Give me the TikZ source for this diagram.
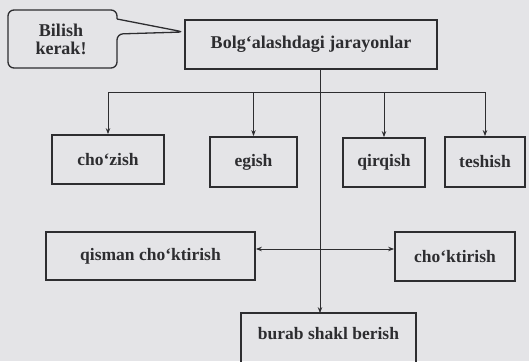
\documentclass[tikz,border=0pt]{standalone}
\usepackage{fontspec}
\setmainfont{Liberation Serif}
\usetikzlibrary{arrows.meta}
\definecolor{paper}{RGB}{228,228,231}
\definecolor{ink}{RGB}{45,45,48}
\tikzset{
  box/.style={draw=ink, line width=1.8pt, fill=paper, inner sep=0pt, font=\bfseries\fontsize{17.5}{20}\selectfont, text=ink},
  mainbox/.style={box, line width=2.4pt, font=\bfseries\fontsize{18}{20}\selectfont},
  conn/.style={draw=ink, line width=0.9pt},
  arr/.style={conn, -{Stealth[length=6pt,width=4.5pt]}},
  darr/.style={conn, {Stealth[length=6pt,width=4.5pt]}-{Stealth[length=6pt,width=4.5pt]}},
}
\begin{document}
\begin{tikzpicture}[x=1pt,y=-1pt]
\fill[paper] (0,0) rectangle (529,361);
\clip (0,0) rectangle (529,361);
\useasboundingbox (0,0) rectangle (529,361);
% boxes (centre, size)
\node[mainbox, minimum width=252pt, minimum height=49pt] (main) at (311,44.5) {Bolg‘alashdagi jarayonlar};
\node[box, minimum width=112pt, minimum height=49pt] (chozish) at (108,159.5) {cho‘zish};
\node[box, minimum width=87pt, minimum height=50pt] (egish) at (253.5,162) {egish};
\node[box, minimum width=82pt, minimum height=49pt] (qirqish) at (384,162.5) {qirqish};
\node[box, minimum width=80pt, minimum height=50pt] (teshish) at (485,162) {teshish};
\node[box, minimum width=209pt, minimum height=48pt] (qisman) at (150.5,256) {qisman cho‘ktirish};
\node[box, minimum width=120pt, minimum height=49pt] (choktirish) at (455,256.5) {cho‘ktirish};
\node[box, draw=none, minimum width=173pt, minimum height=40pt] (burab) at (328.5,334) {burab shakl berish};
\draw[ink, line width=1.8pt] (burab.south west) ++(0,20) |- (burab.north east) -- ++(0,60);
% callout
\node[font=\bfseries\fontsize{18}{20}\selectfont, text=ink, align=center] (bilish) at (61,39) {Bilish\\[-2pt]kerak!};
\coordinate (tip) at (main.west |- 0,32);
\draw[ink, line width=1.3pt, rounded corners=6pt]
  (117,19) -- (tip) -- (117,34) -- (117,68) -- (8,68) -- (8,10) -- (117,10) -- (117,19);
% connectors
\coordinate (bus) at (320,92);
\coordinate (t) at (main.south -| bus);
\draw[conn] (t) -- (bus);
\draw[conn] (bus -| chozish.north) -- (bus -| teshish.north);
\draw[arr] (bus -| chozish.north) -- (chozish.north);
\draw[arr] (bus -| egish.north) -- (egish.north);
\draw[arr] (bus -| qirqish.north) -- (qirqish.north);
\draw[arr] (bus -| teshish.north) -- (teshish.north);
\draw[arr] (bus) -- (bus |- burab.north);
\draw[darr] (qisman.east |- 0,249) -- (choktirish.west |- 0,249);
\end{tikzpicture}
\end{document}
